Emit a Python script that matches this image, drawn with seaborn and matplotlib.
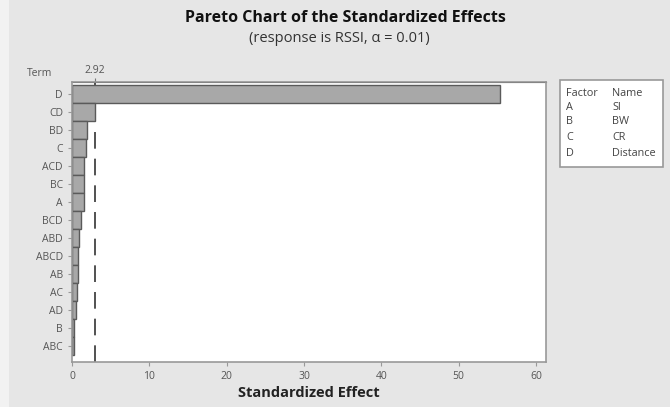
import matplotlib
matplotlib.use("Agg")
import matplotlib.pyplot as plt
import matplotlib.patches as mpatches
import seaborn as sns
import pandas as pd

# data
terms = ["D", "CD", "BD", "C", "ACD", "BC", "A", "BCD", "ABD", "ABCD",
         "AB", "AC", "AD", "B", "ABC"]
effects = [55.3, 3.0, 1.9, 1.85, 1.6, 1.58, 1.55, 1.1, 0.85, 0.83,
           0.8, 0.6, 0.55, 0.25, 0.2]
crit = 2.92
factors = ["A", "B", "C", "D"]
names = ["SI", "BW", "CR", "Distance"]

df = pd.DataFrame({"Term": terms, "Effect": effects})

sns.set_style("white")
plt.rcParams["font.family"] = ["Open Sans", "DejaVu Sans"]

bg = "#e6e6e6"
fig = plt.figure(figsize=(6.7, 4.07), dpi=100, facecolor=bg)
ax = fig.add_axes([0.1075, 0.1106, 0.7075, 0.6879])
ax.set_facecolor("white")

# critical value line (behind bars)
ax.axvline(crit, color="#333333", lw=1.2, linestyle=(0, (10, 6)), zorder=1)

sns.barplot(data=df, x="Effect", y="Term", order=terms, color="#a8a8a8",
            saturation=1, width=1.0, edgecolor="#5a5a5a", linewidth=1.0,
            ax=ax, zorder=2)

ax.set_xlim(0, 61.3)
ax.set_ylim(14.89, -0.67)
ax.set_xticks([0, 10, 20, 30, 40, 50, 60])
ax.tick_params(axis="both", labelsize=7.5, labelcolor="#555555", colors="#999999",
               length=3, direction="out")
ax.tick_params(axis="x", bottom=True)
ax.tick_params(axis="y", left=True)
ax.set_ylabel("")
ax.set_xlabel("Standardized Effect", fontsize=10.5, fontweight="bold",
              color="#222222", labelpad=3)
for s in ax.spines.values():
    s.set_color("#999999")
    s.set_linewidth(1.2)

sec = ax.secondary_xaxis("top")
sec.set_xticks([crit])
sec.set_xticklabels(["2.92"])
sec.tick_params(labelsize=7.5, labelcolor="#555555", colors="#777777", length=3,
                pad=1)

fig.text(40 / 670, 1 - 73 / 407, "Term", fontsize=7.5, color="#555555",
         ha="center", va="center")

fig.text(345 / 670, 1 - 18 / 407, "Pareto Chart of the Standardized Effects",
         fontsize=11.5, fontweight="bold", ha="center", va="center", color="#111111")
fig.text(339 / 670, 1 - 38 / 407, "(response is RSSI, \u03b1 = 0.01)",
         fontsize=10.5, ha="center", va="center", color="#333333")

# factor key box
lx0, lx1, ly0, ly1 = 560, 663, 80, 167
fig.patches.append(mpatches.Rectangle((lx0 / 670, 1 - ly1 / 407),
                                      (lx1 - lx0) / 670, (ly1 - ly0) / 407,
                                      transform=fig.transFigure, facecolor="white",
                                      edgecolor="#999999", lw=1.2))
rows = [("Factor", "Name")] + list(zip(factors, names))
row_y = [93, 107, 122, 138, 153]
for (f, n), yy in zip(rows, row_y):
    fig.text(566 / 670, 1 - yy / 407, f, fontsize=7.8, color="#444444", va="center")
    fig.text(612 / 670, 1 - yy / 407, n, fontsize=7.8, color="#444444", va="center")

# light strip on left edge
fig.patches.append(mpatches.Rectangle((0, 0), 9 / 670, 1, transform=fig.transFigure,
                                      facecolor="#f2f2f2", edgecolor="none"))

fig.savefig("out.png", dpi=100, facecolor=bg)
